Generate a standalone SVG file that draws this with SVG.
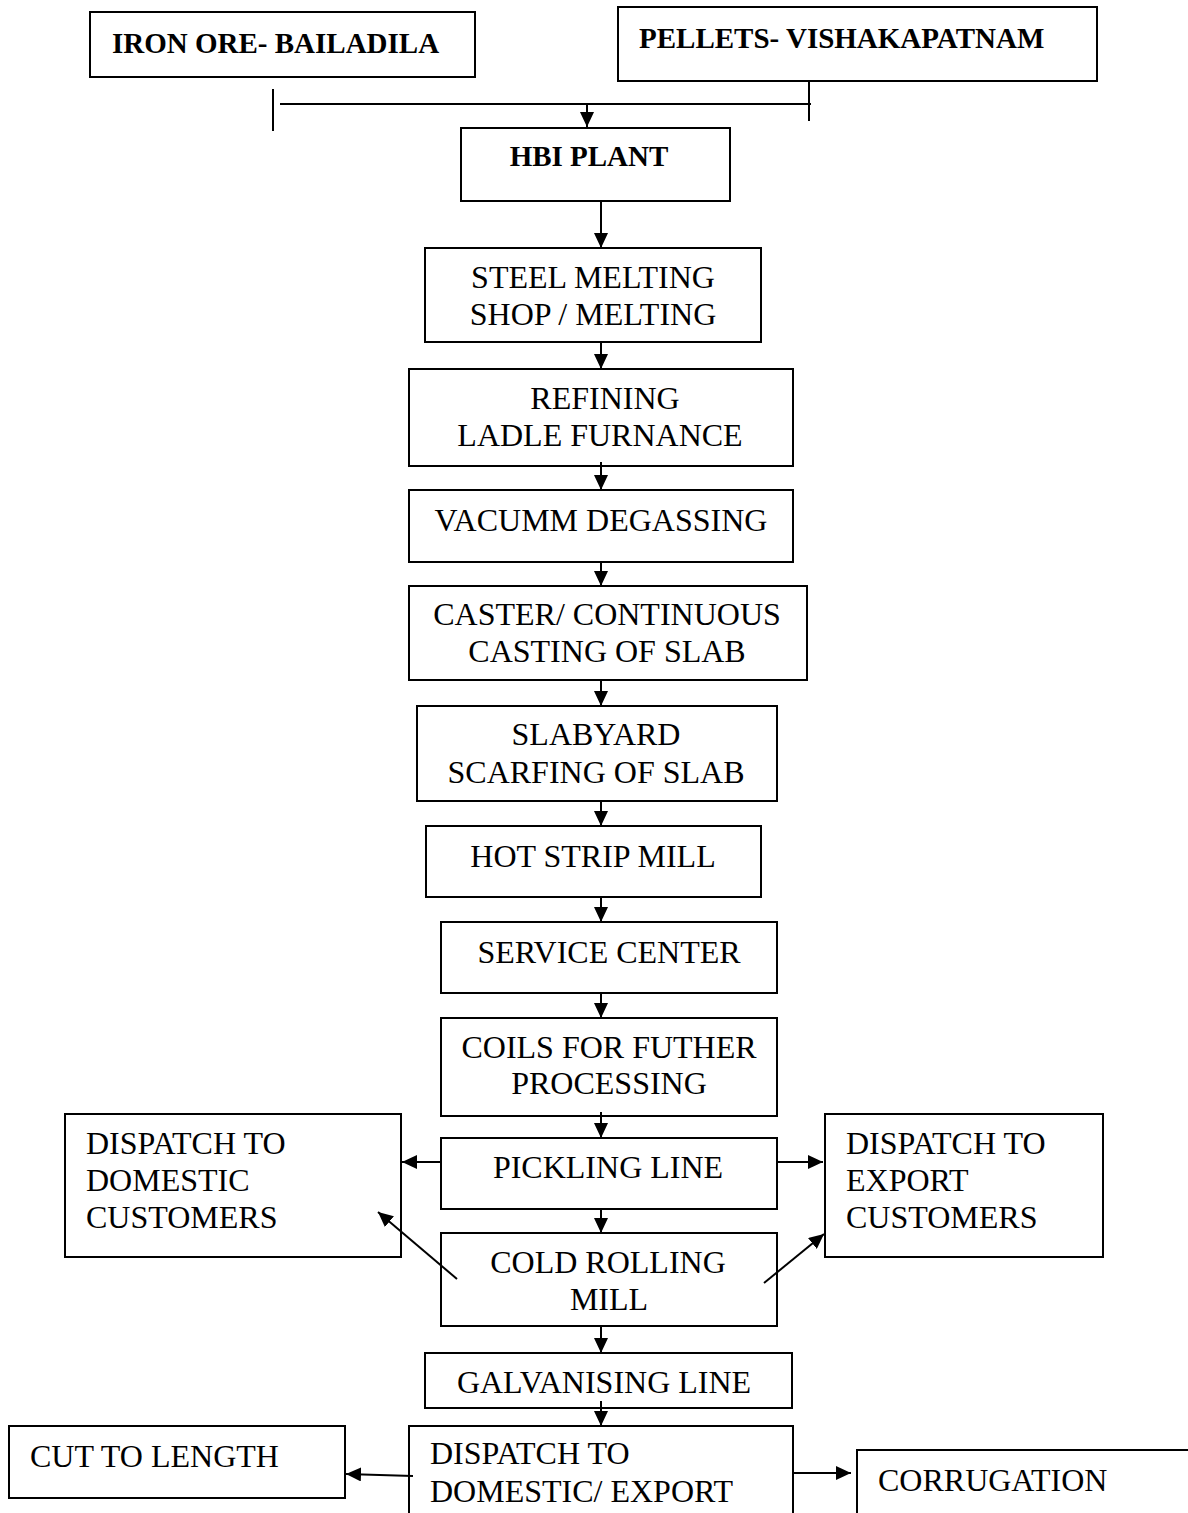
<svg xmlns="http://www.w3.org/2000/svg" width="1188" height="1513" viewBox="0 0 1188 1513">
<style>
.box{fill:#fff;stroke:#000;stroke-width:2}
.t{font-family:"Liberation Serif","Times New Roman",serif;font-size:32px;fill:#000}
.b{font-family:"Liberation Serif","Times New Roman",serif;font-size:29px;font-weight:bold;fill:#000}
.m{text-anchor:middle}
.ln{stroke:#000;stroke-width:2;fill:none}
.ar{stroke:#000;stroke-width:2;fill:none;marker-end:url(#ah)}
</style>
<defs>
<marker id="ah" markerUnits="userSpaceOnUse" viewBox="0 0 15 14" markerWidth="15" markerHeight="14" refX="15" refY="7" orient="auto">
<path d="M0,0 L15,7 L0,14 z" fill="#000"/>
</marker>
</defs>
<rect width="1188" height="1513" fill="#fff"/>
<g id="iron-ore">
<rect class="box" x="90" y="12" width="385" height="65"/>
<text class="b" x="112" y="53">IRON ORE- BAILADILA</text>
</g>
<g id="pellets">
<rect class="box" x="618" y="7" width="479" height="74"/>
<text class="b" x="639" y="48">PELLETS- VISHAKAPATNAM</text>
</g>
<g id="hbi-plant">
<rect class="box" x="461" y="128" width="269" height="73"/>
<text class="b m" x="589" y="166">HBI PLANT</text>
</g>
<g id="steel-melting">
<rect class="box" x="425" y="248" width="336" height="94"/>
<text class="t m" x="593" y="288">STEEL MELTING</text>
<text class="t m" x="593" y="325">SHOP / MELTING</text>
</g>
<g id="refining">
<rect class="box" x="409" y="369" width="384" height="97"/>
<text class="t m" x="605" y="409">REFINING</text>
<text class="t m" x="600" y="446">LADLE FURNANCE</text>
</g>
<g id="vacumm-degassing">
<rect class="box" x="409" y="490" width="384" height="72"/>
<text class="t m" x="601" y="531">VACUMM DEGASSING</text>
</g>
<g id="caster">
<rect class="box" x="409" y="586" width="398" height="94"/>
<text class="t m" x="607" y="625">CASTER/ CONTINUOUS</text>
<text class="t m" x="607" y="662">CASTING OF SLAB</text>
</g>
<g id="slabyard">
<rect class="box" x="417" y="706" width="360" height="95"/>
<text class="t m" x="596" y="745">SLABYARD</text>
<text class="t m" x="596" y="783">SCARFING OF SLAB</text>
</g>
<g id="hot-strip-mill">
<rect class="box" x="426" y="826" width="335" height="71"/>
<text class="t m" x="593" y="867">HOT STRIP MILL</text>
</g>
<g id="service-center">
<rect class="box" x="441" y="922" width="336" height="71"/>
<text class="t m" x="609" y="963">SERVICE CENTER</text>
</g>
<g id="coils">
<rect class="box" x="441" y="1018" width="336" height="98"/>
<text class="t m" x="609" y="1058">COILS FOR FUTHER</text>
<text class="t m" x="609" y="1094">PROCESSING</text>
</g>
<g id="pickling-line">
<rect class="box" x="441" y="1138" width="336" height="71"/>
<text class="t m" x="608" y="1178">PICKLING LINE</text>
</g>
<g id="dispatch-domestic">
<rect class="box" x="65" y="1114" width="336" height="143"/>
<text class="t" x="86" y="1154">DISPATCH TO</text>
<text class="t" x="86" y="1191">DOMESTIC</text>
<text class="t" x="86" y="1228">CUSTOMERS</text>
</g>
<g id="dispatch-export">
<rect class="box" x="825" y="1114" width="278" height="143"/>
<text class="t" x="846" y="1154">DISPATCH TO</text>
<text class="t" x="846" y="1191">EXPORT</text>
<text class="t" x="846" y="1228">CUSTOMERS</text>
</g>
<g id="cold-rolling-mill">
<rect class="box" x="441" y="1233" width="336" height="93"/>
<text class="t m" x="608" y="1273">COLD ROLLING</text>
<text class="t m" x="609" y="1310">MILL</text>
</g>
<g id="galvanising-line">
<rect class="box" x="425" y="1353" width="367" height="55"/>
<text class="t m" x="604" y="1393">GALVANISING LINE</text>
</g>
<g id="dispatch-domestic-export">
<rect class="box" x="409" y="1426" width="384" height="100"/>
<text class="t" x="430" y="1464">DISPATCH TO</text>
<text class="t" x="430" y="1502">DOMESTIC/ EXPORT</text>
</g>
<g id="cut-to-length">
<rect class="box" x="9" y="1426" width="336" height="72"/>
<text class="t" x="30" y="1467">CUT TO LENGTH</text>
</g>
<g id="corrugation">
<rect class="box" x="857" y="1450" width="340" height="80"/>
<text class="t" x="878" y="1491">CORRUGATION</text>
</g>
<g id="connectors">
<line class="ln" x1="273" y1="89" x2="273" y2="131"/>
<line class="ln" x1="280" y1="104" x2="811" y2="104"/>
<line class="ln" x1="809" y1="81" x2="809" y2="121"/>
<line class="ar" x1="587" y1="104" x2="587" y2="127"/>
<line class="ar" x1="601" y1="202" x2="601" y2="248"/>
<line class="ar" x1="601" y1="343" x2="601" y2="369"/>
<line class="ar" x1="601" y1="462" x2="601" y2="490"/>
<line class="ar" x1="601" y1="563" x2="601" y2="586"/>
<line class="ar" x1="601" y1="681" x2="601" y2="706"/>
<line class="ar" x1="601" y1="802" x2="601" y2="826"/>
<line class="ar" x1="601" y1="898" x2="601" y2="922"/>
<line class="ar" x1="601" y1="994" x2="601" y2="1018"/>
<line class="ar" x1="601" y1="1112" x2="601" y2="1138"/>
<line class="ar" x1="601" y1="1210" x2="601" y2="1233"/>
<line class="ar" x1="601" y1="1327" x2="601" y2="1353"/>
<line class="ar" x1="601" y1="1401" x2="601" y2="1426"/>
<line class="ar" x1="441" y1="1162" x2="402" y2="1162"/>
<line class="ar" x1="777" y1="1162" x2="823" y2="1162"/>
<line class="ar" x1="457" y1="1279" x2="378" y2="1212"/>
<line class="ar" x1="764" y1="1283" x2="824" y2="1234"/>
<line class="ar" x1="413" y1="1476" x2="346" y2="1474"/>
<line class="ar" x1="793" y1="1473" x2="851" y2="1473"/>
</g>
</svg>
